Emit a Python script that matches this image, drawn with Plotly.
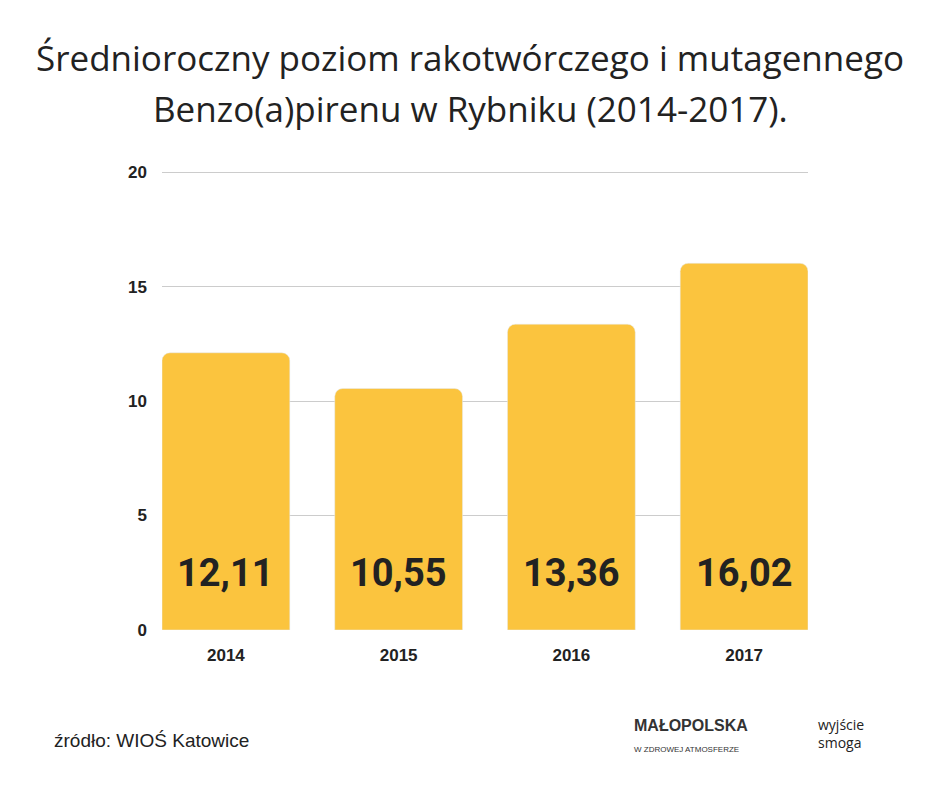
import plotly.graph_objects as go

years = ["2014", "2015", "2016", "2017"]
values = [12.11, 10.55, 13.36, 16.02]
labels = ["12,11", "10,55", "13,36", "16,02"]
yticks = [0, 5, 10, 15, 20]

fig = go.Figure(go.Bar(x=years, y=values, marker=dict(color="#FBC43E", cornerradius=8),
                       width=0.74, hoverinfo="skip"))
for i, lab in enumerate(labels):
    fig.add_annotation(x=i, y=2.5, xref="x", yref="y", text="<b>%s</b>" % lab, showarrow=False,
                       font=dict(family="Roboto, Arial", size=38, color="#222222", weight=900))

W, H = 940, 788
OFF = 8
L, R, T, B = 162 - OFF, 132 + OFF, 171 - OFF, 158 + OFF
fig.update_layout(
    width=W, height=H, plot_bgcolor="white", paper_bgcolor="white",
    margin=dict(l=L, r=R, t=T, b=B),
    showlegend=False,
    xaxis=dict(type="category", range=[-0.37, 3.37],
               tickfont=dict(family="Liberation Sans", size=17, color="#222", weight="bold"),
               showline=False, ticks="", ticklabelstandoff=13),
    yaxis=dict(range=[0, 20.05], tickvals=yticks, gridcolor="#cccccc", gridwidth=1,
               zeroline=False,
               tickfont=dict(family="Liberation Sans", size=17, color="#222", weight="bold"),
               ticklabelstandoff=14),
)

def px(x):
    return (x - OFF - L) / (W - L - R)

def py(y):
    return (H - B - (y - OFF)) / (H - T - B)

for txt, yy in [("Średnioroczny poziom rakotwórczego i mutagennego", 57),
                ("Benzo(a)pirenu w Rybniku (2014-2017).", 108)]:
    fig.add_annotation(xref="paper", yref="paper", x=px(470), y=py(yy), xanchor="center", yanchor="middle",
                       text=txt, showarrow=False, font=dict(family="Open Sans", size=35, color="#222222"))
fig.add_annotation(xref="paper", yref="paper", x=px(52), y=py(740), xanchor="left", yanchor="middle",
                   text="źródło: WIOŚ Katowice", showarrow=False,
                   font=dict(family="Liberation Sans", size=19, color="#222"))
fig.add_annotation(xref="paper", yref="paper", x=px(816), y=py(733), xanchor="left", yanchor="middle",
                   text="wyjście<br>smoga", showarrow=False, align="left",
                   font=dict(family="Open Sans", size=14, color="#222"))
fig.add_annotation(xref="paper", yref="paper", x=px(632), y=py(735), xanchor="left", yanchor="middle",
                   text="<b>MAŁOPOLSKA</b><br><span style='font-size:8px'>W ZDROWEJ ATMOSFERZE</span>",
                   showarrow=False, align="left",
                   font=dict(family="Liberation Sans", size=16, color="#333"))
fig.write_html("out.html")
